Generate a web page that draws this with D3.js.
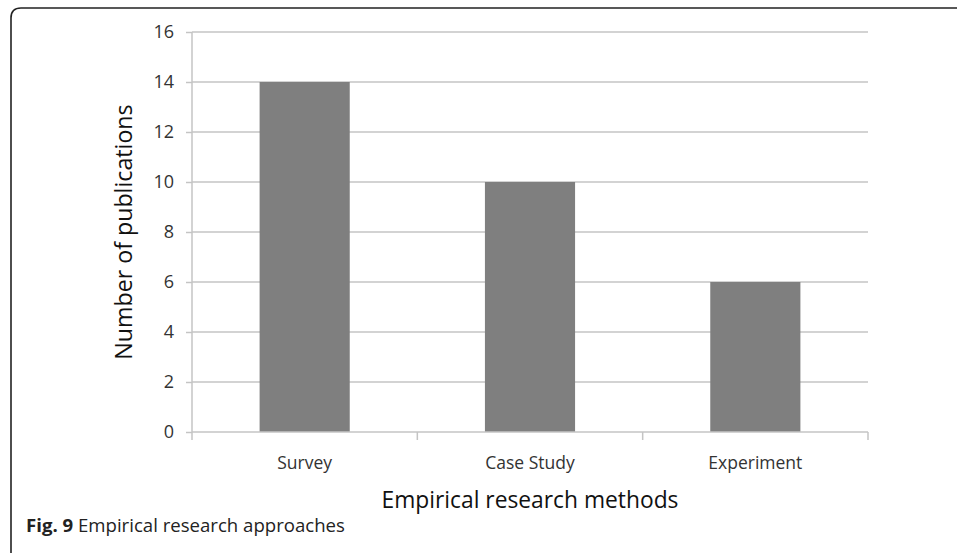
<!DOCTYPE html>
<html>
<head>
<meta charset="utf-8">
<script src="https://cdn.jsdelivr.net/npm/d3@7"></script>
<style>
  body { margin: 0; background: #fff; }
  text { font-family: "Open Sans", sans-serif; }
</style>
</head>
<body>
<div id="chart"></div>
<script>
const methods = ["Survey", "Case Study", "Experiment"];
const publications = [14, 10, 6];
const yTicks = [0, 2, 4, 6, 8, 10, 12, 14, 16];

const width = 957;
const height = 555;
const margin = { top: 32, right: 89, bottom: 123, left: 192 };

const svg = d3.select("#chart")
  .append("svg")
  .attr("width", width)
  .attr("height", height);

// frame round the figure
svg.append("path")
  .attr("d", "M11,553 Q11,548 11,540 L11,18 Q11,8 21,8 L957,8")
  .attr("fill", "none")
  .attr("stroke", "#222")
  .attr("stroke-width", 1.6);

const x = d3.scaleBand()
  .domain(methods)
  .range([margin.left, width - margin.right])
  .paddingInner(0.6)
  .paddingOuter(0.3);

const xEdge = d3.scaleLinear()
  .domain([0, methods.length])
  .range([margin.left, width - margin.right]);

const y = d3.scaleLinear()
  .domain([0, 16])
  .range([height - margin.bottom, margin.top]);

// gridlines
svg.append("g")
  .selectAll("line")
  .data(yTicks.slice(1))
  .join("line")
  .attr("x1", margin.left)
  .attr("x2", width - margin.right)
  .attr("y1", d => y(d))
  .attr("y2", d => y(d))
  .attr("stroke", "#c4c4c4")
  .attr("stroke-width", 1.5);

// bars
svg.append("g")
  .attr("fill", "#7f7f7f")
  .selectAll("rect")
  .data(publications)
  .join("rect")
  .attr("x", (d, i) => x(methods[i]))
  .attr("y", d => y(d))
  .attr("width", x.bandwidth())
  .attr("height", d => y(0) - y(d));

// y axis
const yAxis = svg.append("g")
  .attr("transform", `translate(${margin.left},0)`)
  .call(d3.axisLeft(y).tickValues(yTicks).tickSize(6).tickPadding(12));
yAxis.selectAll("line, path").attr("stroke", "#c4c4c4").attr("stroke-width", 1.5);
yAxis.select(".domain").attr("d", `M0,${y(0)}V${y(16)}`);
yAxis.selectAll("text")
  .attr("font-size", 18)
  .attr("fill", "#333")
  .attr("font-family", "Open Sans, sans-serif");

// x axis: ticks on the category edges
const xAxis = svg.append("g")
  .attr("transform", `translate(0,${y(0)})`);
xAxis.append("line")
  .attr("x1", margin.left)
  .attr("x2", width - margin.right)
  .attr("stroke", "#c4c4c4")
  .attr("stroke-width", 1.5);
xAxis.selectAll(".edge")
  .data(d3.range(methods.length + 1))
  .join("line")
  .attr("class", "edge")
  .attr("x1", d => xEdge(d))
  .attr("x2", d => xEdge(d))
  .attr("y1", 0)
  .attr("y2", 8)
  .attr("stroke", "#c4c4c4")
  .attr("stroke-width", 1.5);
xAxis.selectAll("text")
  .data(methods)
  .join("text")
  .attr("x", d => x(d) + x.bandwidth() / 2)
  .attr("y", 37)
  .attr("text-anchor", "middle")
  .attr("font-size", 17.5)
  .attr("fill", "#333")
  .text(d => d);

// axis titles
svg.append("text")
  .attr("x", (margin.left + width - margin.right) / 2)
  .attr("y", 508)
  .attr("text-anchor", "middle")
  .attr("font-size", 22.8)
  .attr("fill", "#111")
  .text("Empirical research methods");

svg.append("text")
  .attr("transform", `translate(132,${(y(0) + y(16)) / 2}) rotate(-90)`)
  .attr("text-anchor", "middle")
  .attr("font-size", 23.2)
  .attr("fill", "#111")
  .text("Number of publications");

// caption
const caption = svg.append("text")
  .attr("x", 26)
  .attr("y", 532)
  .attr("font-size", 18.6)
  .attr("fill", "#222");
caption.append("tspan").attr("font-weight", "bold").text("Fig. 9");
caption.append("tspan").text(" Empirical research approaches");
</script>
</body>
</html>
